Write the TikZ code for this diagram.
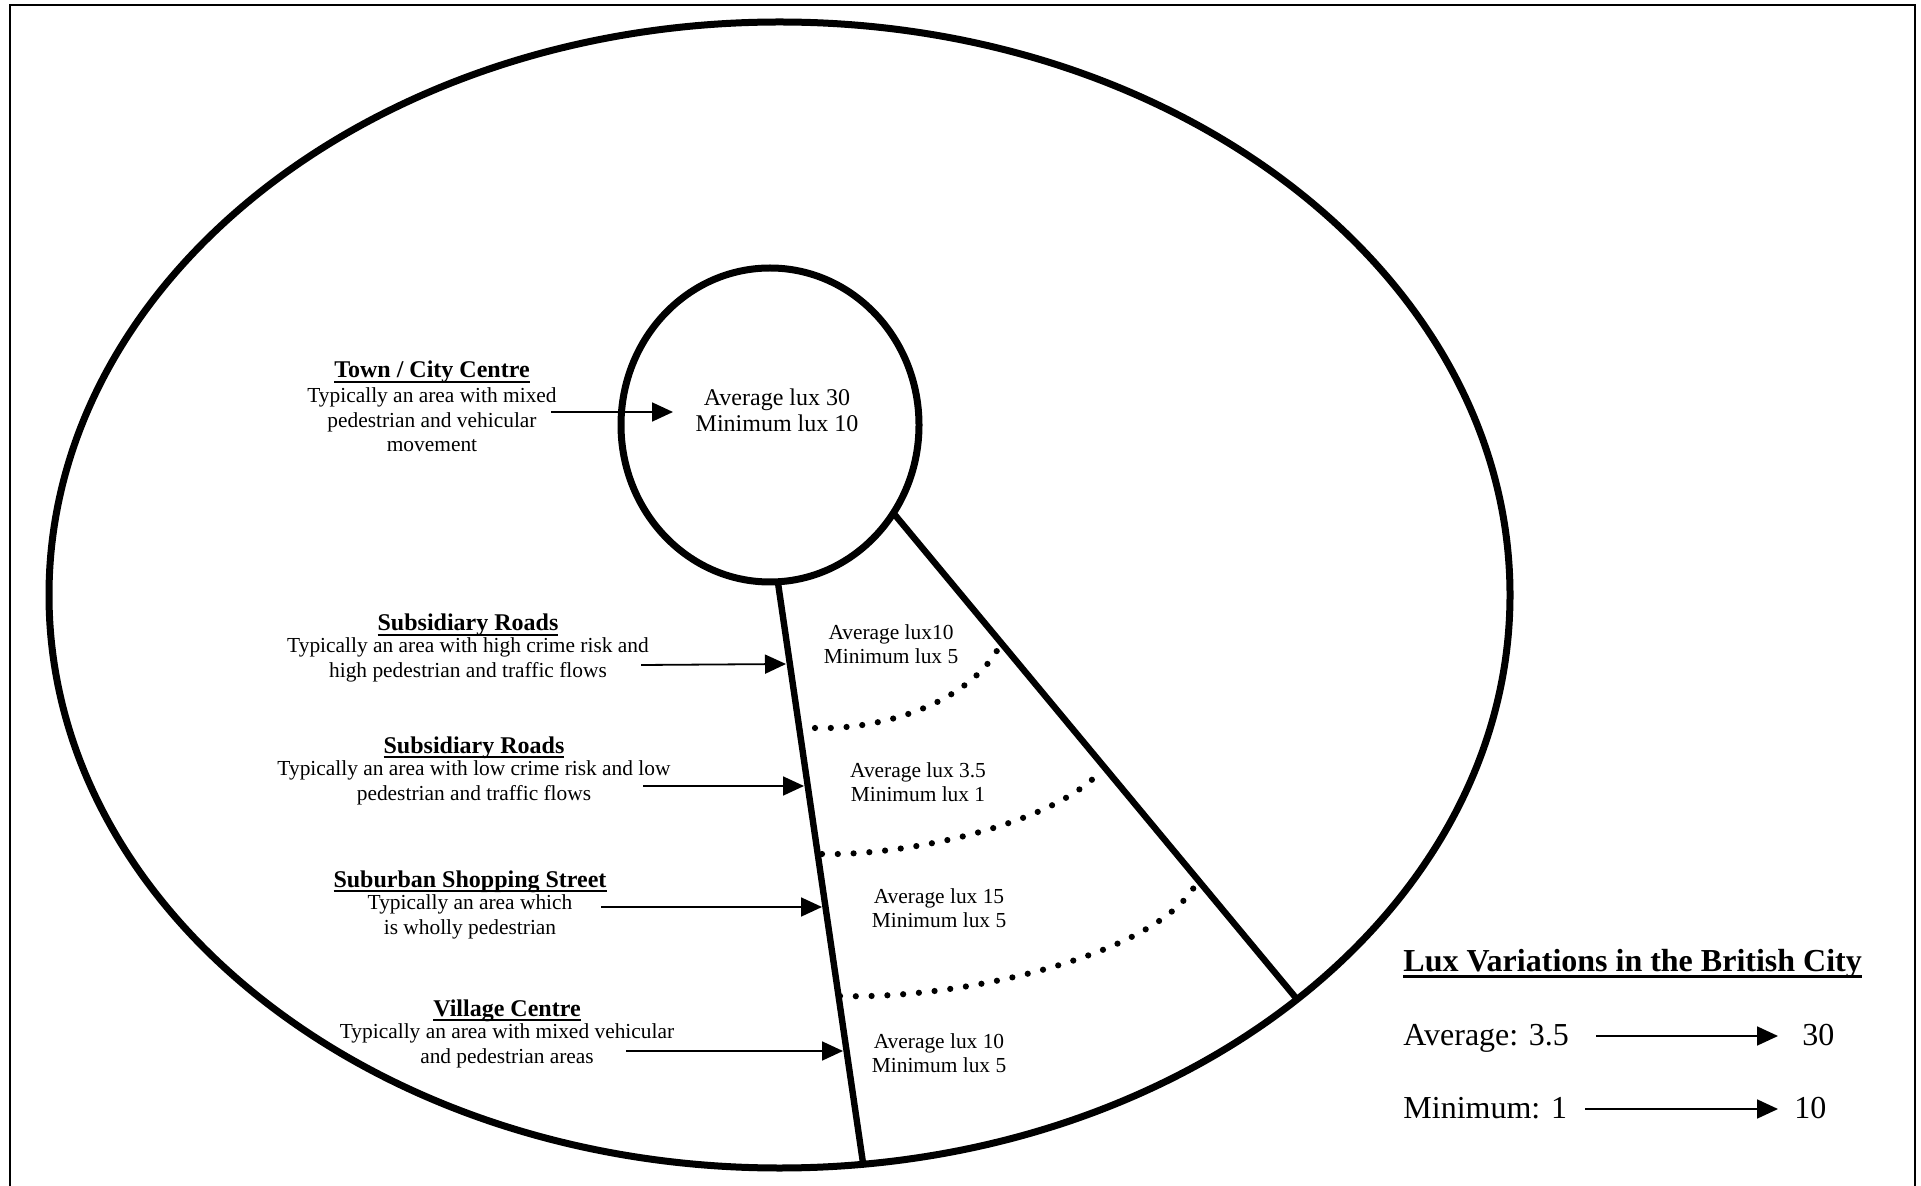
\documentclass[tikz,border=0pt]{standalone}
\usepackage{fontspec}
\setmainfont{Liberation Serif}
\usetikzlibrary{arrows.meta}
% underline close to the baseline, as in a word processor
\newcommand{\undl}[3][0.9pt]{\setbox0\hbox{#3}\rlap{\rule[-#2]{\wd0}{#1}}\box0}
\begin{document}
\begin{tikzpicture}[x=0.5pt,y=-0.5pt,
    zone/.style={line width=3.5pt},
    road/.style={line width=3.2pt},
    dots/.style={line width=3.1pt,line cap=round,dash pattern=on 0pt off 7.9pt},
    pointer/.style={line width=0.9pt,-{Triangle[length=10.5pt,width=9.5pt]}},
    head/.style={inner sep=0pt,anchor=base,font=\bfseries\fontsize{12}{14}\selectfont},
    body/.style={inner sep=0pt,align=center,font=\fontsize{10.7}{12.3}\selectfont},
    legend/.style={inner sep=0pt,anchor=base west,font=\fontsize{16}{19}\selectfont}]
  \useasboundingbox (0,0) rectangle (1921,1186);
  \draw[line width=1pt] (10,1186) -- (10,5) -- (1915,5) -- (1915,1186);
  % city and centre
  \draw[zone] (779.5,595) ellipse[x radius=730.5,y radius=573];
  \draw[zone] (770,425) ellipse[x radius=149,y radius=157];
  \coordinate (l1) at (778,583); \coordinate (l2) at (863,1163);
  \coordinate (r1) at (895,515); \coordinate (r2) at (1296,998);
  \draw[road] (l1) -- (l2) (r1) -- (r2);
  \draw[dots] (815,728) .. controls (880,730) and (965,705) .. (998,649);
  \draw[dots] (822,854) .. controls (900,856) and (1040,828) .. (1095,777);
  \draw[dots] (840,996) .. controls (960,1000) and (1160,955) .. (1197,882);
  % lux values
  \node[body,font=\fontsize{12}{13}\selectfont] (hub) at (777,410) {Average lux 30\\Minimum lux 10};
  \node[body] (w1) at (891,644) {Average lux10\\Minimum lux 5};
  \node[body] (w2) at (918,782) {Average lux 3.5\\Minimum lux 1};
  \node[body] (w3) at (939,908) {Average lux 15\\Minimum lux 5};
  \node[body] (w4) at (939,1053) {Average lux 10\\Minimum lux 5};
  % areas
  \node[head] (townH) at (432,378) {\undl{2.4pt}{Town / City Centre}};
  \node[body] (townT) at (432,420) {Typically an area with mixed\\pedestrian and vehicular\\movement};
  \node[head] (subaH) at (468,631) {\undl{2.4pt}{Subsidiary Roads}};
  \node[body] (subaT) at (468,660) {Typically an area with high crime risk and\\high pedestrian and traffic flows};
  \node[head] (subbH) at (474,753) {\undl{2.4pt}{Subsidiary Roads}};
  \node[body] (subbT) at (474,783) {Typically an area with low crime risk and low\\pedestrian and traffic flows};
  \node[head] (shopH) at (470,887) {\undl{2.4pt}{Suburban Shopping Street}};
  \node[body] (shopT) at (470,917) {Typically an area which\\is wholly pedestrian};
  \node[head] (villH) at (507,1016) {\undl{2.4pt}{Village Centre}};
  \node[body] (villT) at (507,1046) {Typically an area with mixed vehicular\\and pedestrian areas};
  \coordinate (townA) at (551,412); \coordinate (townB) at (673,412);
  \coordinate (subaA) at (641,665); \coordinate (subaB) at (786,664);
  \coordinate (subbA) at (643,786); \coordinate (subbB) at (804,786);
  \coordinate (shopA) at (601,907); \coordinate (shopB) at (822,907);
  \coordinate (villA) at (626,1051); \coordinate (villB) at (843,1051);
  \draw[pointer] (townA) -- (townB);
  \draw[pointer] (subaA) -- (subaB);
  \draw[pointer] (subbA) -- (subbB);
  \draw[pointer] (shopA) -- (shopB);
  \draw[pointer] (villA) -- (villB);
  % legend
  \node[legend,font=\bfseries\fontsize{16}{19}\selectfont] (luxT) at (1403,971) {\undl[1.4pt]{3.6pt}{Lux Variations in the British City}};
  \node[legend] (avg) at (1403,1045) {Average: 3.5};
  \node[legend] (avgV) at (1802,1045) {30};
  \node[legend] (min) at (1403,1118) {Minimum: 1};
  \node[legend] (minV) at (1794,1118) {10};
  \draw[pointer] ([xshift=13.5pt,yshift=4.5pt]avg.base east) -- ([xshift=-12pt,yshift=4.5pt]avgV.base west);
  \draw[pointer] ([xshift=9pt,yshift=4.5pt]min.base east) -- ([xshift=-8pt,yshift=4.5pt]minV.base west);
\end{tikzpicture}
\end{document}
